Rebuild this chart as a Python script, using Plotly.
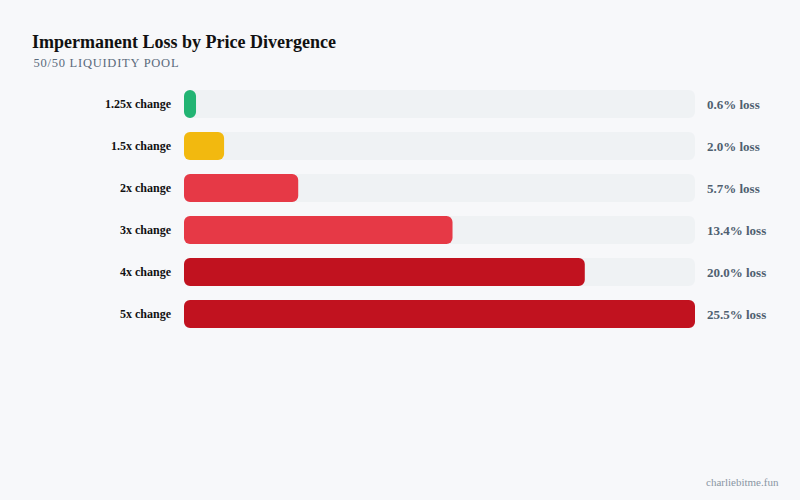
import plotly.graph_objects as go

categories = ["1.25x change", "1.5x change", "2x change", "3x change", "4x change", "5x change"]
loss_pct = [0.6, 2.0, 5.7, 13.4, 20.0, 25.5]
bar_colors = ["#22b473", "#f2b90f", "#e63946", "#e63946", "#c1121f", "#c1121f"]
value_labels = [f"{v:.1f}% loss" for v in loss_pct]

track_max = max(loss_pct)
track = [track_max] * len(categories)
serif = "Liberation Serif, Times New Roman, serif"

# plot area in pixels (800x500 window)
L, R, T, B = 184, 105, 83, 165
W, H = 800, 500
pw, ph = W - L - R, H - T - B


def px(x):
    return (x - L) / pw


def py(y):
    return (H - B - y) / ph


fig = go.Figure()

# explicit base -> plotly rounds all four corners; tracks and bars on separate axis pairs
fig.add_trace(go.Bar(
    x=track, base=[0] * len(categories), y=categories, orientation="h",
    marker=dict(color="#eff2f4", line=dict(width=0)),
    hoverinfo="skip",
))
fig.add_trace(go.Bar(
    x=loss_pct, base=[0] * len(categories), y=categories, orientation="h",
    marker=dict(color=bar_colors, line=dict(width=0)),
    xaxis="x2", yaxis="y2",
    hovertemplate="%{y}: %{x}%<extra></extra>",
))

annotations = []
for cat, lab in zip(categories, value_labels):
    annotations.append(dict(
        x=track_max, y=cat, xref="x", yref="y",
        text=lab, showarrow=False, xanchor="left", xshift=10,
        font=dict(family=serif, size=13, color="#4f5f70", weight="bold"),
    ))

annotations += [
    dict(x=px(30), y=py(42), xref="paper", yref="paper", showarrow=False,
         xanchor="left", yanchor="middle", text="<b>Impermanent Loss by Price Divergence</b>",
         font=dict(family=serif, size=18, color="#111111")),
    dict(x=px(38.5), y=py(63), xref="paper", yref="paper", showarrow=False,
         xanchor="left", yanchor="middle", text="50/50 LIQUIDITY POOL",
         font=dict(family=serif, size=12.5, color="#5b6b7c")),
    dict(x=px(781), y=py(482), xref="paper", yref="paper", showarrow=False,
         xanchor="right", yanchor="middle", text="charliebitme.fun",
         font=dict(family=serif, size=11, color="#8a96a3")),
]

fig.update_layout(
    width=W, height=H,
    margin=dict(l=L, r=R, t=T, b=B),
    paper_bgcolor="#f7f8fa",
    plot_bgcolor="#f7f8fa",
    barmode="overlay",
    bargap=0.33,
    barcornerradius=6,
    showlegend=False,
    annotations=annotations,
)

axis_x = dict(range=[0, track_max], showgrid=False, zeroline=False,
              showticklabels=False, fixedrange=True)
axis_y = dict(autorange="reversed", showgrid=False, zeroline=False,
              ticks="", fixedrange=True, categoryorder="array", categoryarray=categories)
fig.update_layout(
    xaxis=axis_x,
    yaxis=dict(axis_y, ticklabelstandoff=12,
               tickfont=dict(family=serif, size=12, color="#111111", weight="bold")),
    xaxis2=dict(axis_x, overlaying="x", matches="x"),
    yaxis2=dict(axis_y, overlaying="y", showticklabels=False),
)

# body margin off so the figure fills the window; letter spacing for the subtitle
post = """
document.body.style.margin = '0';
document.body.style.background = '#f7f8fa';
document.querySelectorAll('.annotation-text').forEach(function (t) {
  if (t.textContent === '50/50 LIQUIDITY POOL') { t.style.letterSpacing = '0.75px'; }
});
"""

fig.write_html("out.html", config=dict(displayModeBar=False), post_script=post)
